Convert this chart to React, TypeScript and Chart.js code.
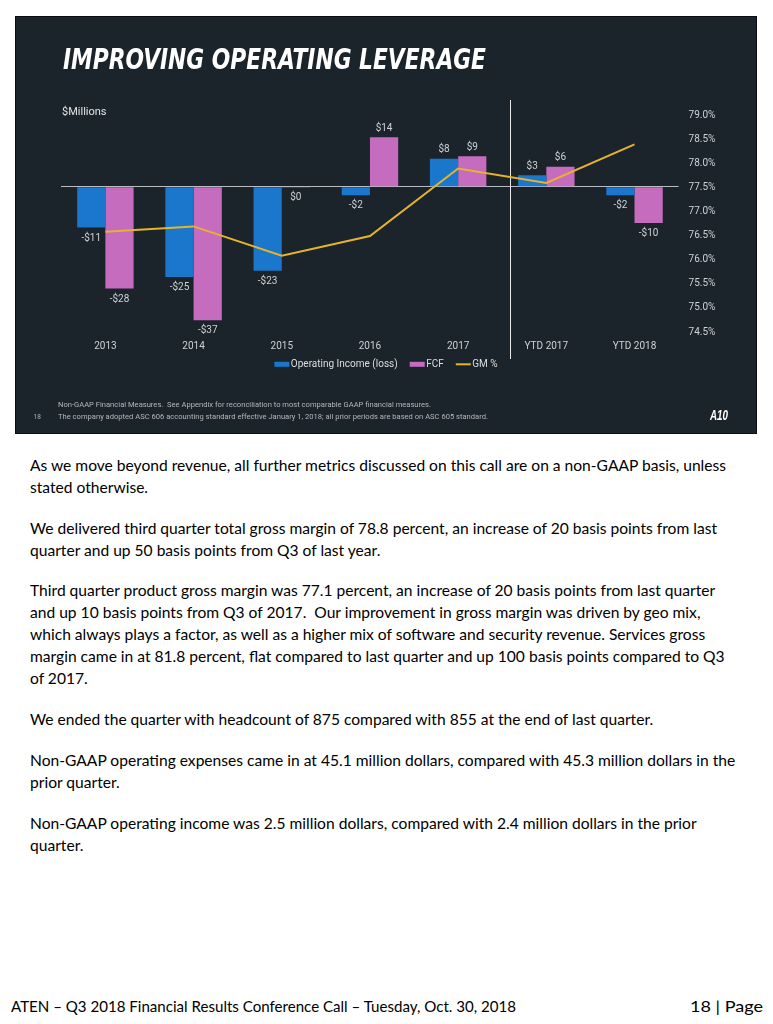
import React, { useEffect, useLayoutEffect, useRef } from 'react';
import { Chart, registerables } from 'chart.js';

Chart.register(...registerables);

// ---- data ----
const categories = ['2013', '2014', '2015', '2016', '2017', 'YTD 2017', 'YTD 2018'];
const operatingIncome = [-11.4, -25.2, -23.4, -2.4, 7.8, 3.2, -2.4];
const freeCashFlow = [-28.4, -37.2, -0.2, 13.8, 8.5, 5.6, -10.1];
const gmPercent = [76.58, 76.69, 76.08, 76.49, 77.89, 77.59, 78.39];
const seriesNames = ['Operating Income (loss)', 'FCF', 'GM %'];
const gmAxisMin = 74.5;
const gmAxisMax = 79.0;
const gmAxisStep = 0.5;
const moneyAxisMin = -40.5;
const moneyAxisMax = 20;

const bodyParagraphLines = [
  'As we move beyond revenue, all further metrics discussed on this call are on a non-GAAP basis, unless',
  'stated otherwise.',
  'We delivered third quarter total gross margin of 78.8 percent, an increase of 20 basis points from last',
  'quarter and up 50 basis points from Q3 of last year.',
  'Third quarter product gross margin was 77.1 percent, an increase of 20 basis points from last quarter',
  'and up 10 basis points from Q3 of 2017.  Our improvement in gross margin was driven by geo mix,',
  'which always plays a factor, as well as a higher mix of software and security revenue. Services gross',
  'margin came in at 81.8 percent, flat compared to last quarter and up 100 basis points compared to Q3',
  'of 2017.',
  'We ended the quarter with headcount of 875 compared with 855 at the end of last quarter.',
  'Non-GAAP operating expenses came in at 45.1 million dollars, compared with 45.3 million dollars in the',
  'prior quarter.',
  'Non-GAAP operating income was 2.5 million dollars, compared with 2.4 million dollars in the prior',
  'quarter.',
];
const bodyLineCenters = [465, 487, 528, 550, 590, 612, 634, 656, 678, 719, 760, 782, 823, 845];

const BLUE = '#1a77cc';
const PINK = '#c56cbf';
const GOLD = '#e6b42c';
const PANEL = '#1b232b';
const LABEL = '#cfd2d6';
const CHART_FONT = "Roboto, 'Noto Sans', sans-serif";

function fmtMoney(v: number) {
  const r = Math.round(v);
  return r < 0 ? `-$${-r}` : `$${r}`;
}

const overlayPlugin = {
  id: 'overlay',
  beforeDatasetsDraw(chart: any) {
    const { ctx, chartArea } = chart;
    const xs = chart.scales.x;
    const p4 = xs.getPixelForValue(4);
    const p5 = xs.getPixelForValue(5);
    const dx = Math.round(p4 + 0.59 * (p5 - p4)) + 0.5;
    ctx.save();
    ctx.strokeStyle = '#e9e9e9';
    ctx.lineWidth = 1;
    ctx.beginPath();
    ctx.moveTo(dx, chartArea.top - 15);
    ctx.lineTo(dx, chartArea.bottom + 27);
    ctx.stroke();
    ctx.restore();
  },
  afterDatasetsDraw(chart: any) {
    const { ctx } = chart;
    ctx.save();
    ctx.font = `10px ${CHART_FONT}`;
    ctx.fillStyle = LABEL;
    ctx.textAlign = 'center';
    ctx.textBaseline = 'middle';
    [0, 1].forEach((di) => {
      const meta = chart.getDatasetMeta(di);
      const data = chart.data.datasets[di].data as number[];
      meta.data.forEach((bar: any, i: number) => {
        const v = data[i];
        const y = v > 0 ? bar.y - 9 : bar.y + 10.5;
        ctx.fillText(fmtMoney(v), bar.x, y);
      });
    });
    ctx.restore();
  },
  afterDraw(chart: any) {
    const { ctx } = chart;
    const ds = chart.data.datasets;
    ctx.save();
    ctx.font = `10px ${CHART_FONT}`;
    ctx.textBaseline = 'middle';
    ctx.textAlign = 'left';
    const boxW = 15;
    const gap = 1.5;
    const itemGap = 12;
    const widths = ds.map((d: any) => boxW + gap + ctx.measureText(d.label).width);
    const total = widths.reduce((a: number, b: number) => a + b, 0) + itemGap * (ds.length - 1);
    let x = chart.width / 2 - total / 2;
    const y = 347.3;
    ds.forEach((d: any, i: number) => {
      if (d.type === 'line') {
        ctx.strokeStyle = d.borderColor;
        ctx.lineWidth = 2;
        ctx.beginPath();
        ctx.moveTo(x, y);
        ctx.lineTo(x + boxW, y);
        ctx.stroke();
      } else {
        ctx.fillStyle = d.backgroundColor;
        ctx.fillRect(x, y - 2.5, boxW, 5);
      }
      ctx.fillStyle = '#dcdfe2';
      ctx.fillText(d.label, x + boxW + gap, y);
      x += widths[i] + itemGap;
    });
    ctx.restore();
  },
};

function FitText({ text, width, style }: { text: string; width: number; style: React.CSSProperties }) {
  const ref = useRef<HTMLSpanElement>(null);
  useLayoutEffect(() => {
    const el = ref.current;
    if (!el) return;
    el.style.transform = 'none';
    const w = el.getBoundingClientRect().width;
    if (w > 0) el.style.transform = `scaleX(${width / w})`;
  });
  return (
    <span
      ref={ref}
      style={{
        position: 'absolute',
        display: 'inline-block',
        whiteSpace: 'pre',
        transformOrigin: 'left center',
        ...style,
      }}
    >
      {text}
    </span>
  );
}

function BodyText() {
  const refs = useRef<(HTMLDivElement | null)[]>([]);
  useLayoutEffect(() => {
    const first = refs.current[0];
    if (!first) return;
    refs.current.forEach((el) => el && (el.style.transform = 'none'));
    const w = first.getBoundingClientRect().width;
    const s = w > 0 ? 696 / w : 1;
    refs.current.forEach((el) => el && (el.style.transform = `scaleX(${s})`));
  }, []);
  return (
    <>
      {bodyParagraphLines.map((line, i) => (
        <div
          key={i}
          ref={(el) => {
            refs.current[i] = el;
          }}
          style={{
            position: 'absolute',
            left: 30,
            top: bodyLineCenters[i] - 11,
            height: 22,
            lineHeight: '22px',
            fontFamily: "Lato, 'Open Sans', sans-serif",
            fontSize: 15,
            color: '#000',
            whiteSpace: 'pre',
            transformOrigin: 'left center',
          }}
        >
          {line}
        </div>
      ))}
    </>
  );
}

export default function App() {
  const canvasRef = useRef<HTMLCanvasElement>(null);

  useEffect(() => {
    if (!canvasRef.current) return;
    const chart = new Chart(canvasRef.current, {
      type: 'bar',
      data: {
        labels: categories,
        datasets: [
          {
            type: 'bar',
            label: seriesNames[0],
            data: operatingIncome,
            backgroundColor: BLUE,
            yAxisID: 'y',
            order: 1,
            categoryPercentage: 0.64,
            barPercentage: 1.0,
          } as any,
          {
            type: 'bar',
            label: seriesNames[1],
            data: freeCashFlow,
            backgroundColor: PINK,
            yAxisID: 'y',
            order: 1,
            categoryPercentage: 0.64,
            barPercentage: 1.0,
          } as any,
          {
            type: 'line',
            label: seriesNames[2],
            data: gmPercent,
            borderColor: GOLD,
            backgroundColor: GOLD,
            borderWidth: 2,
            pointRadius: 0,
            tension: 0,
            yAxisID: 'y1',
            order: 0,
          } as any,
        ],
      },
      options: {
        animation: false,
        responsive: false,
        devicePixelRatio: 1,
        layout: { padding: { left: 45.3, right: 0, top: 98, bottom: 71 } },
        plugins: {
          legend: { display: false },
          tooltip: { enabled: false },
          title: { display: false },
        },
        scales: {
          x: {
            grid: { display: false, drawTicks: false },
            border: { display: false },
            ticks: {
              color: LABEL,
              font: { family: CHART_FONT, size: 10 },
              padding: 8,
              maxRotation: 0,
              autoSkip: false,
            },
            afterFit: (s: any) => {
              s.height = 30;
            },
          },
          y: {
            position: 'left',
            min: moneyAxisMin,
            max: moneyAxisMax,
            ticks: { display: false, stepSize: 10 },
            grid: {
              drawTicks: false,
              lineWidth: 1,
              color: (c: any) => (c.tick && c.tick.value === 0 ? '#b8bcc0' : 'rgba(0,0,0,0)'),
            },
            border: { display: false },
            afterFit: (s: any) => {
              s.width = 0;
            },
          },
          y1: {
            position: 'right',
            min: gmAxisMin,
            max: gmAxisMax,
            grid: { display: false, drawTicks: false },
            border: { display: false },
            ticks: {
              stepSize: gmAxisStep,
              color: LABEL,
              font: { family: CHART_FONT, size: 10 },
              padding: 10,
              callback: (v: any) => `${Number(v).toFixed(1)}%`,
            },
            afterFit: (s: any) => {
              s.width = 77.4;
            },
          },
        },
      } as any,
      plugins: [overlayPlugin],
    });
    return () => chart.destroy();
  }, []);

  return (
    <div style={{ position: 'absolute', left: 0, top: 0, width: 773, height: 1024, background: '#fff' }}>
      <div
        style={{
          position: 'absolute',
          left: 16,
          top: 16.5,
          width: 740,
          height: 416,
          background: PANEL,
          boxShadow: '0 0 0 1px #0b0f13',
          overflow: 'hidden',
        }}
      >
        <canvas ref={canvasRef} width={740} height={416} style={{ position: 'absolute', left: 0, top: 0 }} />
        <FitText
          text="IMPROVING OPERATING LEVERAGE"
          width={423}
          style={{
            left: 46.7,
            top: 29,
            fontFamily: "'Liberation Sans Narrow', 'DejaVu Sans Condensed', 'Liberation Sans', sans-serif",
            fontWeight: 'bold',
            fontStyle: 'italic',
            fontSize: 28,
            lineHeight: '27px',
            color: '#ffffff',
          }}
        />
        <span
          style={{
            position: 'absolute',
            left: 46,
            top: 88,
            fontFamily: CHART_FONT,
            fontSize: 11,
            lineHeight: '13px',
            color: '#e2e4e6',
            whiteSpace: 'pre',
          }}
        >
          $Millions
        </span>
        <FitText
          text="Non-GAAP Financial Measures.  See Appendix for reconciliation to most comparable GAAP financial measures."
          width={373}
          style={{ left: 42.3, top: 384.5, fontFamily: CHART_FONT, fontSize: 6.5, lineHeight: '8px', color: '#b5b8bb' }}
        />
        <FitText
          text="The company adopted ASC 606 accounting standard effective January 1, 2018; all prior periods are based on ASC 605 standard."
          width={430}
          style={{ left: 42.3, top: 396, fontFamily: CHART_FONT, fontSize: 6.5, lineHeight: '8px', color: '#b5b8bb' }}
        />
        <span
          style={{
            position: 'absolute',
            left: 17.5,
            top: 396,
            fontFamily: CHART_FONT,
            fontSize: 6.5,
            lineHeight: '8px',
            color: '#b5b8bb',
          }}
        >
          18
        </span>
        <FitText
          text="A10"
          width={18}
          style={{
            left: 693.5,
            top: 390,
            fontFamily: "'Liberation Sans', sans-serif",
            fontWeight: 'bold',
            fontStyle: 'italic',
            fontSize: 15,
            lineHeight: '16px',
            color: '#ffffff',
          }}
        />
      </div>
      <BodyText />
      <FitText
        text="ATEN – Q3 2018 Financial Results Conference Call – Tuesday, Oct. 30, 2018"
        width={505}
        style={{ left: 10.8, top: 995, fontFamily: "Lato, 'Open Sans', sans-serif", fontSize: 16, lineHeight: '22px', color: '#000' }}
      />
      <FitText
        text="18 | Page"
        width={73}
        style={{ left: 690, top: 995, fontFamily: "Lato, 'Open Sans', sans-serif", fontSize: 16, lineHeight: '22px', color: '#000' }}
      />
    </div>
  );
}
